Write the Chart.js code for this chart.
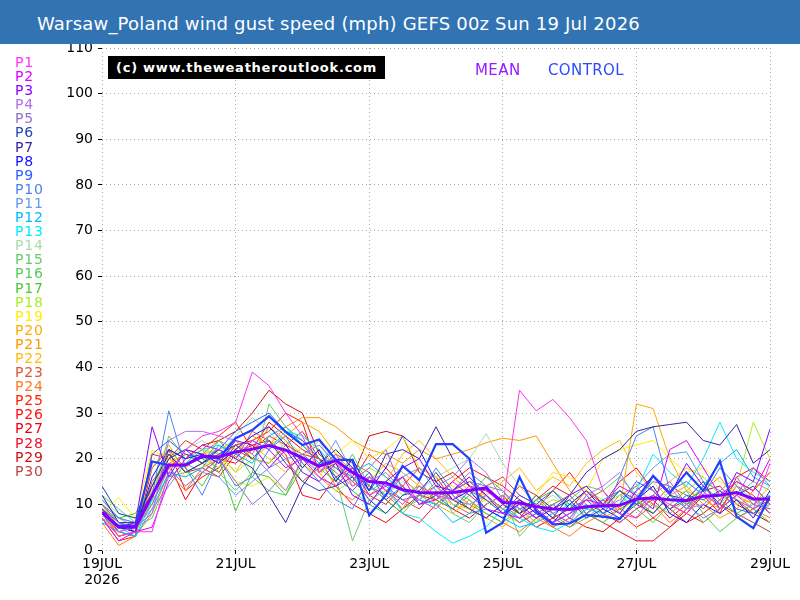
<!DOCTYPE html>
<html><head><meta charset="utf-8">
<script src="https://cdn.jsdelivr.net/npm/chart.js@4/dist/chart.umd.min.js"></script>
<style>
html,body{margin:0;padding:0;background:#fff;width:800px;height:600px;overflow:hidden;}
#wrap{position:relative;width:800px;height:600px;}
#c{position:absolute;left:0;top:0;}
#bar{position:absolute;left:0;top:0;width:800px;height:44px;background:#3173b3;}
#title{position:absolute;left:37px;top:13px;color:#fff;font:18px "DejaVu Sans";line-height:21px;letter-spacing:0.2px;white-space:nowrap;}
#legend{position:absolute;left:15px;top:55px;font:14px "DejaVu Sans";line-height:14.1px;letter-spacing:0.8px;}
#wm{position:absolute;left:108px;top:56px;width:277px;height:23px;background:#000;color:#fff;font:bold 13px "DejaVu Sans";line-height:23px;padding-left:8px;box-sizing:border-box;letter-spacing:0.75px;white-space:nowrap;}
.lbl{position:absolute;top:61px;font:15px "DejaVu Sans";line-height:18px;letter-spacing:0.4px;}
</style></head>
<body><div id="wrap">
<canvas id="c" width="800" height="600"></canvas>
<div id="bar"></div>
<div id="title"></div>
<div id="legend"></div>
<div id="wm">(c) www.theweatheroutlook.com</div>
<div class="lbl" id="meanLbl" style="left:475px;color:#9a1aff;">MEAN</div>
<div class="lbl" id="ctlLbl" style="left:548px;color:#2a4bff;">CONTROL</div>
</div>
<script>
const titleText = "Warsaw_Poland wind gust speed (mph) GEFS 00z Sun 19 Jul 2026";
const leadHours = [0,6,12,18,24,30,36,42,48,54,60,66,72,78,84,90,96,102,108,114,120,126,132,138,144,150,156,162,168,174,180,186,192,198,204,210,216,222,228,234,240];
const xTickLabels = [["19JUL","2026"],"21JUL","23JUL","25JUL","27JUL","29JUL"];
const memberNames = ["P1","P2","P3","P4","P5","P6","P7","P8","P9","P10","P11","P12","P13","P14","P15","P16","P17","P18","P19","P20","P21","P22","P23","P24","P25","P26","P27","P28","P29","P30"];
const memberColors = ["#ff33ee","#dd00ff","#8800ff","#b070ee","#9070cc","#2244bb","#3322aa","#1010ff","#3060ff","#5080ee","#6699ee","#00bbff","#00eeff","#aaddaa","#66cc66","#55cc55","#44cc33","#aaee22","#ffee00","#ffaa00","#ff9900","#ffbb11","#dd5533","#ff7722","#ff2200","#ff1111","#ee0011","#ee1122","#cc1111","#bb4444"];

const meanValues = [8.3,5,5,12,18.6,18.6,20.6,20.4,21.5,22.1, 22.9,21.9,20.2,18.4,19.6,17,15,14.7,13.2,12.6, 12.5,12.6,13.1,13.6,10.4,10.3,9.5,9,8.9,9.5, 9.7,9.8,11.2,11.4,11,10.8,11.8,12,12.6,11.2, 11.2];
const controlValues = [8.1,5.3,5.4,19.4,18.6,18.6,20.4,20.1,24.5,26.3, 29.3,25.9,23,24.2,19.8,19.7,7.6,12,18.4,15.3, 23.2,23.2,20,3.8,6,16,8.5,5.6,5.8,7.7, 7.3,6.8,11,16.3,12.5,17,13,19.5,7.3,4.8, 11.7];

const p1 = [7,3,4,4,17,22,25,26,28,39, 36,30,25,17,20,14,16,13,10,14, 12,11,14,13,10,35,30.5,33,29,24, 13,8,7,12,10,8,13,9,12,9, 19];
const p2 = [7,2,4,5,15,20,23,22,20,24, 22,18,20,16,14,18,12,14,16,10, 11,15,12,9,8,7,9,6,8,11, 10,14,12,9,22,24,18,12,15,13, 20];
const p3 = [9,5,6,27,16,22,21,19,24,23, 18,22,17,15,19,12,10,15,18,20, 14,13,16,12,8,10,7,9,12,14, 10,8,13,16,12,19,14,10,17,15, 26.5];
const p4 = [8,4,5,8,24,26,26,25,24,21, 17,13,20,17,21,16,15,17,13,11, 14,16,20,17,11,9,10,8,6,12, 14,17,11,15,14,9,10,13,16,11, 8];
const p5 = [10,6,5,10,18,14,17,20,15,10, 13,17,21,23,19,15,18,22,13,11, 9,13,17,14,13,9,7,10,12,8, 11,6,9,12,15,10,7,9,12,18, 14];
const p6 = [14,8,7,12,20,22,19,21,23,20, 24,19,15,13,14,16,11,8,12,13, 17,12,9,7,10,8,12,9,11,7, 9,13,10,8,12,11,15,9,12,14, 10];
const p7 = [12,6,6,14,21,17,19,22,20,18, 12,6,14,19,22,18,13,21,22,20, 27,20,14,13,11,8,10,7,12,17, 20,22,26,27,27.5,28,24,23,27.5,19, 22];
const p8 = [8,5,4,16,22,20,21,19,22,25, 27,23,18,22,15,20,13,18,25,22, 15,11,13,9,7,11,8,6,10,13, 9,7,11,14,8,6,10,8,11,7, 13];
const p9 = [9,6,4,21,24,21,20,22,26,28, 30,26,24,20,16,13,17,11,14,10, 12,9,13,11,8,12,10,13,9,11, 8,10,15,13,9,12,11,13,9,8, 11];
const p10 = [10,7,6,12,30.5,18,12,20,14,16, 22,25,19,15,11,9,16,14,11,12, 18,13,15,14,10,7,9,6,8,10, 7,16,25,27,13,15,12,18,14,10, 9];
const p11 = [11,7,5,9,14,19,17,16,12,15, 18,20,21,18,24,17,14,12,16,18, 13,11,10,12,9,6,8,10,7,12, 9,11,14,18,21,21.5,15,13,11,9, 12];
const p12 = [6,4,3,9,17,16,18,23,21,19, 25,27,23,19,20,17,19,16,13,11, 10,6,8,9,7,5,6,8,10,9, 11,13,10,16,12,9,14,19,22,16, 14];
const p13 = [7,5,3,11,16,19,22,23,20,24, 22,26,25,22,18,16,13,15,8,7, 4,1.5,3,5,9,7,5,4,6,9, 8,10,13,21,17,14,20,28,20,17, 15];
const p14 = [11,8,7,13,21,22,24,21,25,29, 26,22,20,24,17,14,16,12,15,13, 16,18,20,25.5,19,14,10,12,9,7, 10,12,11,9,13,15,12,10,14,11, 9];
const p15 = [12,9,6,11,25,20,22,17,13,17, 32,27,24,20,16,2,11,13,9,11, 15,8,6,10,12,3,7,9,11,14, 13,16,12,10,8,11,6,9,12,15, 13];
const p16 = [10,6,5,7,16,17,19,24,22,16, 13,12,20,18,15,21,14,11,8,12, 10,13,11,8,6,9,11,8,5,7, 10,12,9,6,10,13,8,4,7,9, 6];
const p17 = [11,7,8,14,22,18,14,20,8.5,17, 16,12,18,22,16,13,10,8,12,14, 11,9,12,16,13,8,11,13,10,8, 6,9,11,8,12,10,14,11,8,10, 12];
const p18 = [9,7,6,10,18,19,22,21,17,20, 19,24,21,17,13,15,18,16,12,14, 12,10,9,11,8,6,9,11,10,13, 11,8,12,15,11,13,16,12,14,28, 20];
const p19 = [8,11.5,7,22,20,16,18,21,15,14, 16,13,19,16,21,24,20,22,25,18, 16,14,12,11,9,8,12,17,16,13, 20,22,23,24,20,17,18,15,12,14, 10];
const p20 = [7,4,5,13,20,18,21,22,24,20, 23,25,28,26,21,17,15,19,17,14, 10,8,11,7,5,9,6,10,12,8, 11,9,32,31,20,13,11,9,12,10, 14];
const p21 = [9,3,4,10,19,21,20,18,22,25, 23,27,29,29,27,24,22,21,19,22, 20,21,22,23.5,24.5,24,25,19,13,10, 7,9,11,8,12,14,10,7,9,13, 17];
const p22 = [10,5,6,18,23,17,19,21,17,23, 20,17,23,20,14,18,12,15,21,24, 20,16,13,12,15,18,13,16,14,19, 22,24,17,13,15,18,16,12,10,11, 9];
const p23 = [8,3,4,15,20,22,21,24,20,26, 24,20,15,18,21,19,17,13,16,12, 14,10,8,12,9,11,8,5,7,11, 13,9,7,10,14,12,9,13,11,8, 10];
const p24 = [6,1,3,8,17,13,18,20,23,21, 27,24,19,16,13,11,14,12,9,15, 11,13,10,8,6,4,7,5,3,6, 8,12,14,10,6,9,13,16,11,9, 7];
const p25 = [7,2,3,21,20,24,22,25,28,22, 25,23,21,20,18,15,12,10,14,18, 16,11,9,7,10,14,12,8,6,9, 11,8,5,7,10,8,6,9,14,12, 8];
const p26 = [8,4,3,18,22,13,16,18,23,24, 26,30,28,17,19,15,21,18,14,10, 12,15,18,16,14,11,9,13,17,12, 8,6,9,11,7,10,12,8,16,18, 15];
const p27 = [9,5,4,12,19,11,17,20,19,22, 28,25,22,20,14,10,8,6,9,12, 11,9,7,10,12,8,5,7,9,13, 10,15,18,13,9,6,8,11,15,13, 17];
const p28 = [8,3,4,14,21,17,18,16,21,23, 24,21,12,11,16,18,14,11,8,6, 10,13,15,12,9,7,11,14,12,8, 6,4,2,2,5,8,12,10,7,9, 11];
const p29 = [9,4,5,11,22,20,23,24,26,30, 35,32,30,21,18,16,25,26,25,17, 15,17,14,11,9,6,8,10,7,5, 4,7,10,12,9,11,13,14,10,8, 6];
const p30 = [10,5,4,12,18,21,19,17,22,20, 19,23,26,20,17,14,16,13,11,9, 13,11,9,14,16,12,10,7,5,8, 10,13,11,7,5,9,12,10,8,6, 4];

const memberValues = [p1,p2,p3,p4,p5,p6,p7,p8,p9,p10,p11,p12,p13,p14,p15,p16,p17,p18,p19,p20,p21,p22,p23,p24,p25,p26,p27,p28,p29,p30];

document.getElementById('title').textContent = titleText;
const leg = document.getElementById('legend');
memberNames.forEach((n,i)=>{ const d=document.createElement('div'); d.textContent=n; d.style.color=memberColors[i]; leg.appendChild(d); });

const toXY = vals => vals.map((v,i)=>({x: leadHours[i], y: v}));
const datasets = [
  {label:'MEAN', data: toXY(meanValues), borderColor:'#8000ff', borderWidth:3, order:0},
  {label:'CONTROL', data: toXY(controlValues), borderColor:'#2040ff', borderWidth:2.2, order:1}
];
memberValues.forEach((m,i)=>datasets.push({label: memberNames[i], data: toXY(m), borderColor: memberColors[i], borderWidth:1, order:2+i}));

const tickFont = {family:'"DejaVu Sans"', size:14, lineHeight:1.1};
const gridOpts = {color:'#a8a8a8', lineWidth:1, tickColor:'#000', tickLength:4, tickWidth:1};
new Chart(document.getElementById('c'), {
  type:'line',
  data:{datasets},
  options:{
    responsive:false, animation:false, devicePixelRatio:1,
    layout:{padding:{left:0, top:48, right:30, bottom:0}},
    elements:{point:{radius:0}, line:{tension:0, fill:false}},
    plugins:{legend:{display:false}, tooltip:{enabled:false}, title:{display:false}},
    scales:{
      x:{type:'linear', min:0, max:240,
        ticks:{stepSize:48, autoSkip:false, maxRotation:0, color:'#000', font:tickFont, padding:3,
          callback:(v)=> xTickLabels[Math.round(v/48)]},
        grid:gridOpts, border:{display:false, dash:[1,3]},
        afterFit:(s)=>{s.height=50;}},
      y:{min:0, max:110,
        ticks:{stepSize:10, color:'#000', font:tickFont, padding:5},
        grid:gridOpts, border:{display:false, dash:[1,3]},
        afterFit:(s)=>{s.width=102;}}
    }
  }
});
</script>
</body></html>
